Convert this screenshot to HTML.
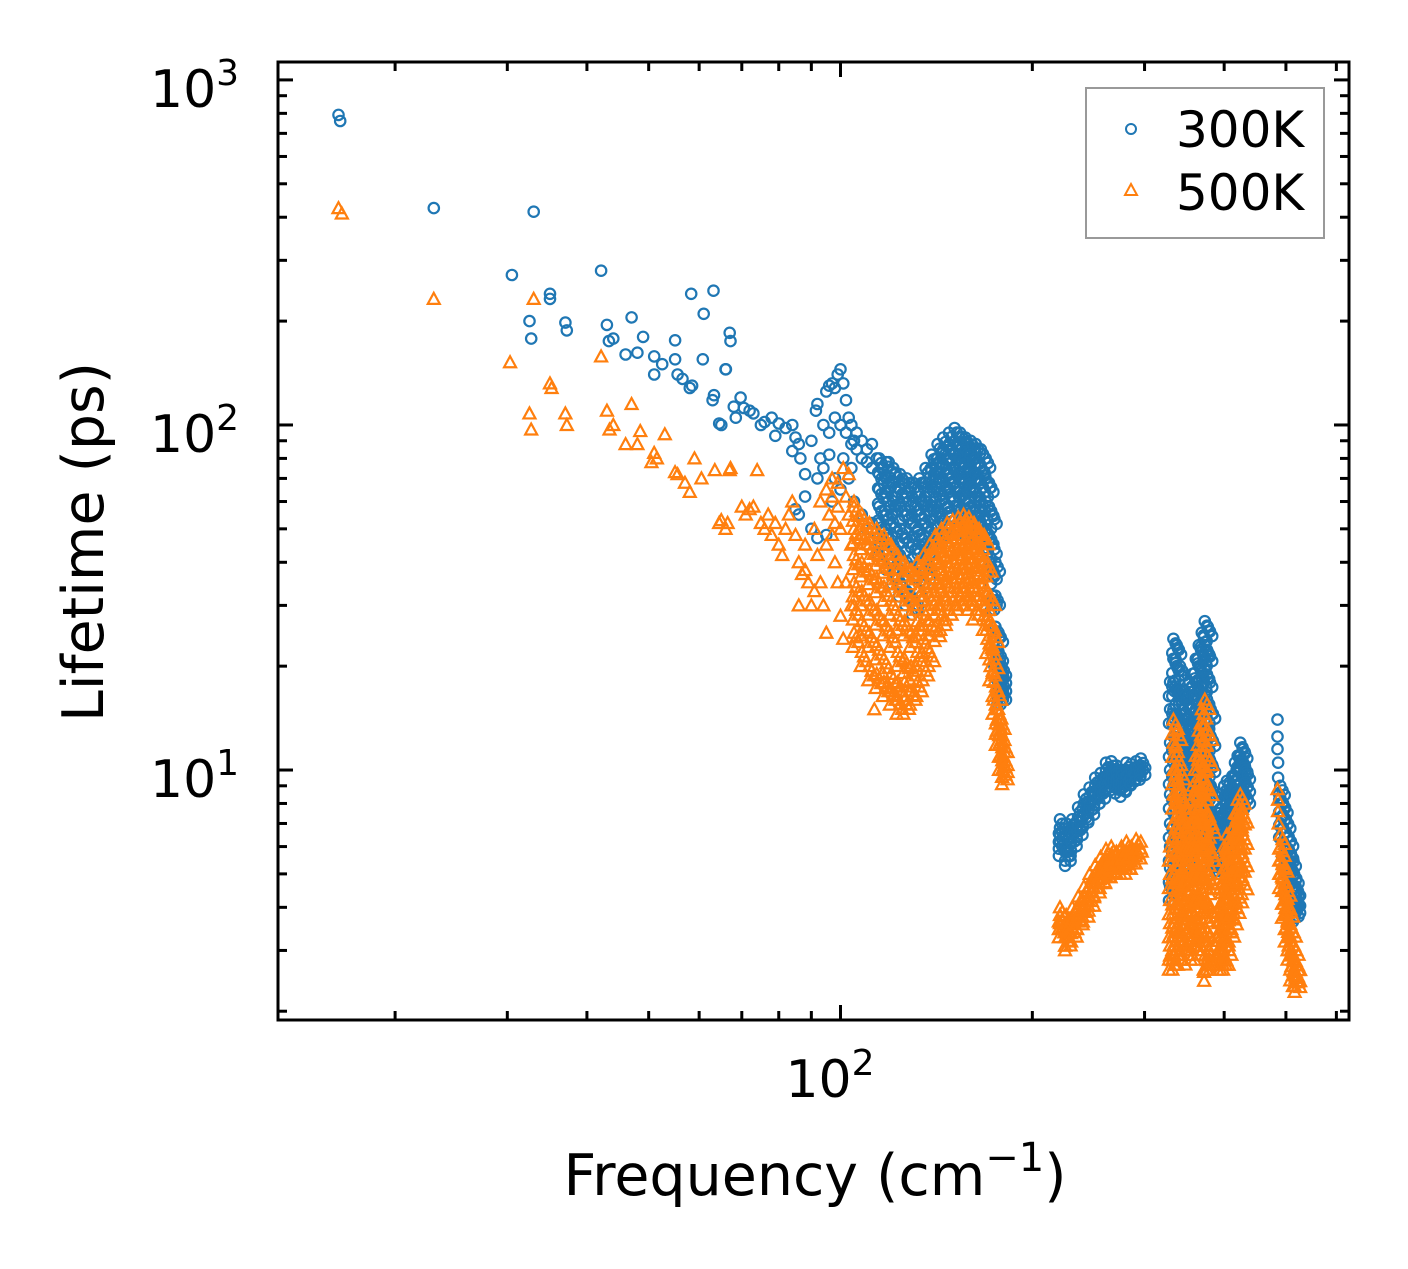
<!DOCTYPE html>
<html><head><meta charset="utf-8"><style>
html,body{margin:0;padding:0;background:#fff;}
svg{display:block;font-family:"DejaVu Sans","Liberation Sans",sans-serif;}
</style></head><body>
<svg id="chart" width="1408" height="1269" viewBox="0 0 1408 1269" xmlns="http://www.w3.org/2000/svg">
<rect x="0" y="0" width="1408" height="1269" fill="#fff"/>
<g id="marks"></g>
<g id="axes"></g>
<rect x="278" y="62" width="1071" height="958" fill="none" stroke="#000" stroke-width="3"/>
<text x="830" y="1097" font-size="52" text-anchor="middle">10<tspan dy="-22" font-size="36">2</tspan></text>
<text x="150" y="107" font-size="52">10<tspan dy="-22" font-size="36">3</tspan></text>
<text x="150" y="452" font-size="52">10<tspan dy="-22" font-size="36">2</tspan></text>
<text x="150" y="797" font-size="52">10<tspan dy="-22" font-size="36">1</tspan></text>
<text x="815" y="1195" font-size="57" text-anchor="middle">Frequency (cm<tspan dy="-24" font-size="40">−1</tspan><tspan dy="24">)</tspan></text>
<text transform="translate(103,542) rotate(-90)" font-size="57" text-anchor="middle">Lifetime (ps)</text>
<g>
<rect x="1086" y="88" width="238" height="150" fill="#fff" stroke="#999" stroke-width="2"/>
<circle cx="1131" cy="129" r="5" fill="none" stroke="#1f77b4" stroke-width="2"/>
<polygon points="1131,184 1137,195 1125,195" fill="none" stroke="#ff7f0e" stroke-width="2"/>
<text x="1176" y="147" font-size="50">300K</text>
<text x="1176" y="210" font-size="50">500K</text>
</g>
</svg>
<script>
// axis ranges
const xDomain = [13.1, 628];
const yDomain = [1.886, 1127];
// sparse points 300K [freq, lifetime]
const blueSparse = [[16.3,792],[16.4,760],[23,425],[33,415],[30.5,272],[42.1,280],[35,240],[35,232],[32.5,200],[32.7,178],[37,198],[37.2,188],[43,195],[43.3,175],[47,205],[44,178],[46,160],[48,162],[49,180],[51,158],[52.5,150],[51,140],[55,176],[55,155],[55.5,140],[56.5,136],[58,128],[58.5,130],[58.3,240],[60.8,155],[61,210],[63.2,245],[63.3,122],[63,118],[64.5,101],[65,100],[66,145],[66.1,145],[67,185],[67.2,175],[68,113],[68.5,105],[69.7,120],[70.5,112],[72,110],[73,108],[75,100],[76,102],[78,105],[79,93],[80,101],[82,98],[84,100],[85,92],[84,84],[86,88],[86.5,80],[88,72],[90,90],[91.5,110],[92,115],[93,80],[94,75],[95,125],[96,130],[97,132],[98,128],[99,140],[100,145],[101,132],[102,118],[103,105],[104,100],[105,90],[106,85],[108,80],[110,78],[112,75],[85,57],[86,55],[90,50],[92,47],[95,48],[97,60],[100,65],[103,70],[105,60],[108,55],[110,50],[112,52],[94,100],[96,95],[98,105],[100,100],[102,95],[104,88],[106,95],[108,90],[110,85],[112,88],[114,80],[116,75],[119,78],[122,72],[125,68],[88,62],[92,70],[96,82],[98,70],[101,80],[104,75],[485,14],[485,12.5],[485,11.5],[486,10.5],[486,9.5],[488,8.5]];
// dense columns 300K [freq, [lifetimes]]
const blueCols = [[115,[80,72,65,58,52,46]],[118,[78,70,62,55,48,42]],[121,[75,68,60,52,45,38]],[124,[72,65,58,50,42,35]],[127,[70,62,55,47,40,33]],[130,[68,60,52,45,38,31]],[133,[70,62,55,48,40,33]],[136,[75,68,60,52,45,38]],[139,[82,74,66,58,50,42]],[142,[88,80,72,64,56,48]],[145,[92,85,77,69,61,53]],[148,[95,88,80,72,64,56]],[151,[98,90,82,74,66,58]],[154,[95,88,80,72,64,56]],[157,[92,85,77,69,61,53]],[160,[90,82,74,66,58,50]],[163,[88,80,72,64,56,50]],[166,[85,76,68,60,52]],[169,[80,70,60,50,44]],[171,[68,58,48,40]],[173,[55,45,38,32]],[175,[40,32,26,22]],[177,[25,22,20,18,17]],[179,[20,19,18,17]],
[221,[7.2,6.8,6.5,6.2]],[226,[7.0,6.5,6.0,5.8]],[231,[7.2,6.8,6.4]],[236,[7.8,7.3,6.9]],[241,[8.5,8.0,7.5]],[246,[8.9,8.4,7.9]],[251,[9.5,9.0,8.5]],[256,[9.8,9.3,8.8]],[261,[10.5,10,9.5]],[266,[10.6,10.1,9.6]],[271,[10.3,9.8,9.4]],[276,[10,9.6,9.2]],[281,[10.5,10,9.6]],[286,[10.4,10]],[291,[10.6,10.2]],[296,[10.8,10.3]],
[329,[18,15,12,10,8.5,7,6,5.2,4.6]],[333,[24,21,18,15,12.5,10.5,9,7.5,6.3,5.3,4.6]],[337,[23,20,17,14.5,12,10,8.5,7,6,5.2]],[341,[20,17,14.5,12,10,8.5,7,6,5.2]],[345,[17,15,13,11,9.5,8,7,6]],[349,[16,14,12,10.5,9,7.8,6.8,5.8]],[353,[18,15.5,13,11,9.5,8,7,6]],[357,[19,16.5,14,12,10,8.5,7.2,6.2,5.4]],[361,[21,18,15,12.5,10.5,9,7.5,6.4]],[365,[23,20,17,14,12,10,8.5,7.2,6.2]],[369,[25,22,18.5,15.5,13,11,9,7.5,6.5]],[373,[27,23,19.5,16.5,14,11.5,9.5,8,6.8]],[377,[26,22,18.5,15.5,13,11,9,7.5,6.5,5.6]],[381,[15,12.5,10.5,9,7.6,6.5,5.6]],
[392,[7.5,6.8,6.2,5.6]],[396,[8.5,7.7,7,6.3,5.7]],[400,[9,8.2,7.4,6.7,6]],[404,[9.3,8.5,7.7,7,6.3]],[408,[9.2,8.5,7.8,7.1]],[412,[9.6,8.8,8]],[416,[10.5,9.6,8.8,8]],[420,[11,10.2,9.4,8.6]],[424,[12,11,10,9.1,8.4]],[428,[11.5,10.5,9.5,8.7]],[432,[10,9.2,8.5]],
[490,[9,8.3,7.6,7]],[495,[8,7.4,6.8,6.2]],[500,[7.2,6.6,6,5.5]],[505,[6.4,5.9,5.4,4.9]],[510,[5.6,5.1,4.7,4.3]],[515,[5,4.6,4.3,4.0]],[518,[4.6,4.3,4.1]]];
// sparse points 500K [freq, lifetime]
const orangeSparse = [[16.3,425],[16.5,410],[23,232],[33,232],[30.3,152],[32.5,108],[32.7,97],[35,132],[35.2,128],[37,108],[37.2,100],[42.1,158],[43,110],[43.4,97],[44,100],[46,88],[47,115],[48,88],[48.5,96],[50.5,78],[51,83],[51.5,80],[53,94],[55,73],[55.5,72],[57,68],[58,64],[59,80],[60.5,70],[63.5,74],[64.5,52],[65,53],[66,50],[66.5,52],[67,74],[67.2,75],[70,58],[71,55],[72,57],[73,58],[74,74],[75,52],[76,50],[77,55],[78,48],[79,52],[80,45],[81,42],[82,50],[83,55],[84,60],[85,48],[86,40],[87,37],[88,45],[89,35],[90,30],[91,50],[92,42],[93,35],[94,30],[95,25],[96,55],[97,48],[98,40],[99,35],[100,28],[101,24],[102,62],[103,55],[104,45],[93,60],[95,65],[97,70],[99,68],[101,75],[103,72],[105,60],[113,15],[86,30],[88,38],[91,33],[95,45],[98,52],[100,50],[102,35],[104,30],[97,62],[99,58],[296,6.2],[297,5.8],[372,2.6],[372,2.45],[485,8.8],[486,8.2],[486,7.6],[487,7]];
// dense columns 500K [freq, [lifetimes]]
const orangeCols = [[105,[58,50,42,35,30,25]],[108,[55,48,40,33,27,22]],[111,[52,45,38,31,25,20]],[114,[50,43,36,29,23,19]],[117,[48,41,34,27,21,18]],[120,[45,38,31,25,19,17]],[123,[42,35,28,22,18,16]],[126,[40,33,27,21,18,16]],[129,[38,31,25,20,17]],[132,[40,33,27,22,18]],[135,[42,35,29,24,20]],[138,[45,38,32,27,22]],[141,[48,42,36,31,26]],[144,[50,44,38,33,28]],[147,[52,46,40,35,30]],[150,[53,47,41,36,31]],[153,[54,48,42,37,33]],[156,[55,48,42,37,33]],[159,[54,47,41,36,32]],[162,[52,45,39,34,30]],[165,[50,43,37,32]],[168,[48,40,33,28]],[170,[40,33,28,24]],[172,[32,27,23,20]],[174,[25,21,18,16]],[176,[17,15,14,13]],[178,[14,13,12,11]],[180,[12,11,10.5,10]],
[221,[4.0,3.8,3.6]],[226,[3.8,3.6,3.4,3.3]],[231,[4.0,3.7,3.5]],[236,[4.3,4.0,3.8]],[241,[4.6,4.3,4.0]],[246,[5.0,4.6,4.3]],[251,[5.3,5.0,4.7]],[256,[5.6,5.3,5.0]],[261,[5.9,5.5,5.2]],[266,[6.0,5.7,5.4]],[271,[5.8,5.5]],[276,[6.0,5.7,5.5]],[281,[6.2,5.8,5.5]],[286,[6.0,5.7]],[291,[6.3,5.9]],
[329,[6,5,4.2,3.6,3.1,2.9]],[333,[14,12,10,8.5,7,6,5,4.2,3.6,3.1,2.9]],[337,[13,11,9.3,8,6.8,5.8,4.9,4.1,3.5,3.0]],[341,[10,8.6,7.4,6.3,5.3,4.5,3.8,3.2]],[345,[8,7,6,5.1,4.3,3.7,3.2]],[349,[6,5.2,4.5,3.9,3.4,3.0]],[353,[7,6,5.1,4.4,3.8,3.3]],[357,[9,7.7,6.5,5.5,4.6,3.9,3.3]],[361,[11,9.3,7.8,6.5,5.4,4.5,3.7,3.1]],[365,[13,11,9.2,7.7,6.4,5.3,4.4,3.6]],[369,[15,12.5,10.5,8.7,7.2,6,5,4.1,3.4]],[373,[16,13.5,11.3,9.4,7.8,6.5,5.3,4.3,3.5,2.9]],[377,[13,11,9,7.4,6.1,5,4.1,3.4,2.9]],[381,[7,5.8,4.8,4,3.3,2.9]],
[392,[4,3.6,3.2,2.9]],[396,[5,4.4,3.8,3.3,2.9]],[400,[6,5.2,4.5,3.9,3.3,2.9]],[404,[6.5,5.7,4.9,4.2,3.6,3.1]],[408,[6.3,5.5,4.8,4.1,3.5]],[412,[6.8,5.9,5.1,4.4,3.8]],[416,[7.5,6.5,5.6,4.8,4.1]],[420,[8.2,7.1,6.1,5.2,4.4]],[424,[8.5,7.4,6.3,5.4]],[428,[7.5,6.5,5.6,4.8]],
[490,[6.5,6,5.5,5]],[495,[5.4,4.9,4.5,4.1]],[500,[4.6,4.2,3.8,3.5]],[505,[4,3.6,3.3,3.1]],[510,[3.5,3.2,2.9,2.7]],[515,[3.1,2.8,2.6]],[518,[2.8,2.6,2.5]]];
// tick values
const xMajorTicks = [100];
const xMinorTicks = [20,30,40,50,60,70,80,90,200,300,400,500,600];
const yMajorTicks = [10,100,1000];
const yMinorTicks = [2,3,4,5,6,7,8,9,20,30,40,50,60,70,80,90,200,300,400,500,600,700,800,900];

const L=278,R=1349,T=62,B=1020;
function xs(v){return L+(Math.log10(v)-Math.log10(xDomain[0]))/(Math.log10(xDomain[1])-Math.log10(xDomain[0]))*(R-L);}
function ys(v){return B-(Math.log10(v)-Math.log10(yDomain[0]))/(Math.log10(yDomain[1])-Math.log10(yDomain[0]))*(B-T);}
const NS="http://www.w3.org/2000/svg";
const marks=document.getElementById('marks');
const axes=document.getElementById('axes');
function circ(f,t){const c=document.createElementNS(NS,'circle');


c.setAttribute('cx',xs(f).toFixed(1));c.setAttribute('cy',ys(t).toFixed(1));c.setAttribute('r','5.2');
c.setAttribute('fill','none');c.setAttribute('stroke','#1f77b4');c.setAttribute('stroke-width','2.2');marks.appendChild(c);}
function tri(f,t){const x=xs(f),y=ys(t);const p=document.createElementNS(NS,'polygon');


p.setAttribute('points',`${x},${y-6} ${x+6},${y+5} ${x-6},${y+5}`);
p.setAttribute('fill','none');p.setAttribute('stroke','#ff7f0e');p.setAttribute('stroke-width','2.2');marks.appendChild(p);}
const jit=[[1,1],[1.008,0.97],[1.016,0.94],[0.996,0.91]];
blueSparse.forEach(d=>circ(d[0],d[1]));
blueCols.forEach(c=>{c[1].forEach(t=>{jit.forEach(j=>circ(c[0]*j[0],t*j[1]));});});
orangeSparse.forEach(d=>tri(d[0],d[1]));
orangeCols.forEach(c=>{c[1].forEach(t=>{jit.forEach(j=>tri(c[0]*j[0],t*j[1]));});});
function line(x1,y1,x2,y2,name){const l=document.createElementNS(NS,'line');


l.setAttribute('x1',x1);l.setAttribute('y1',y1);l.setAttribute('x2',x2);l.setAttribute('y2',y2);
l.setAttribute('stroke','#000');l.setAttribute('stroke-width','3');axes.appendChild(l);}
xMajorTicks.forEach(v=>{const x=xs(v);line(x,B,x,B-15,'x-major-tick');line(x,T,x,T+15,'x-major-tick-top');});
xMinorTicks.forEach(v=>{const x=xs(v);line(x,B,x,B-9,'x-minor-tick');line(x,T,x,T+9,'x-minor-tick-top');});
yMajorTicks.forEach(v=>{const y=ys(v);line(L,y,L+15,y,'y-major-tick');line(R,y,R-15,y,'y-major-tick-right');});
yMinorTicks.forEach(v=>{const y=ys(v);if(y<T||y>B)return;line(L,y,L+9,y,'y-minor-tick');line(R,y,R-9,y,'y-minor-tick-right');});
</script>
</body></html>
